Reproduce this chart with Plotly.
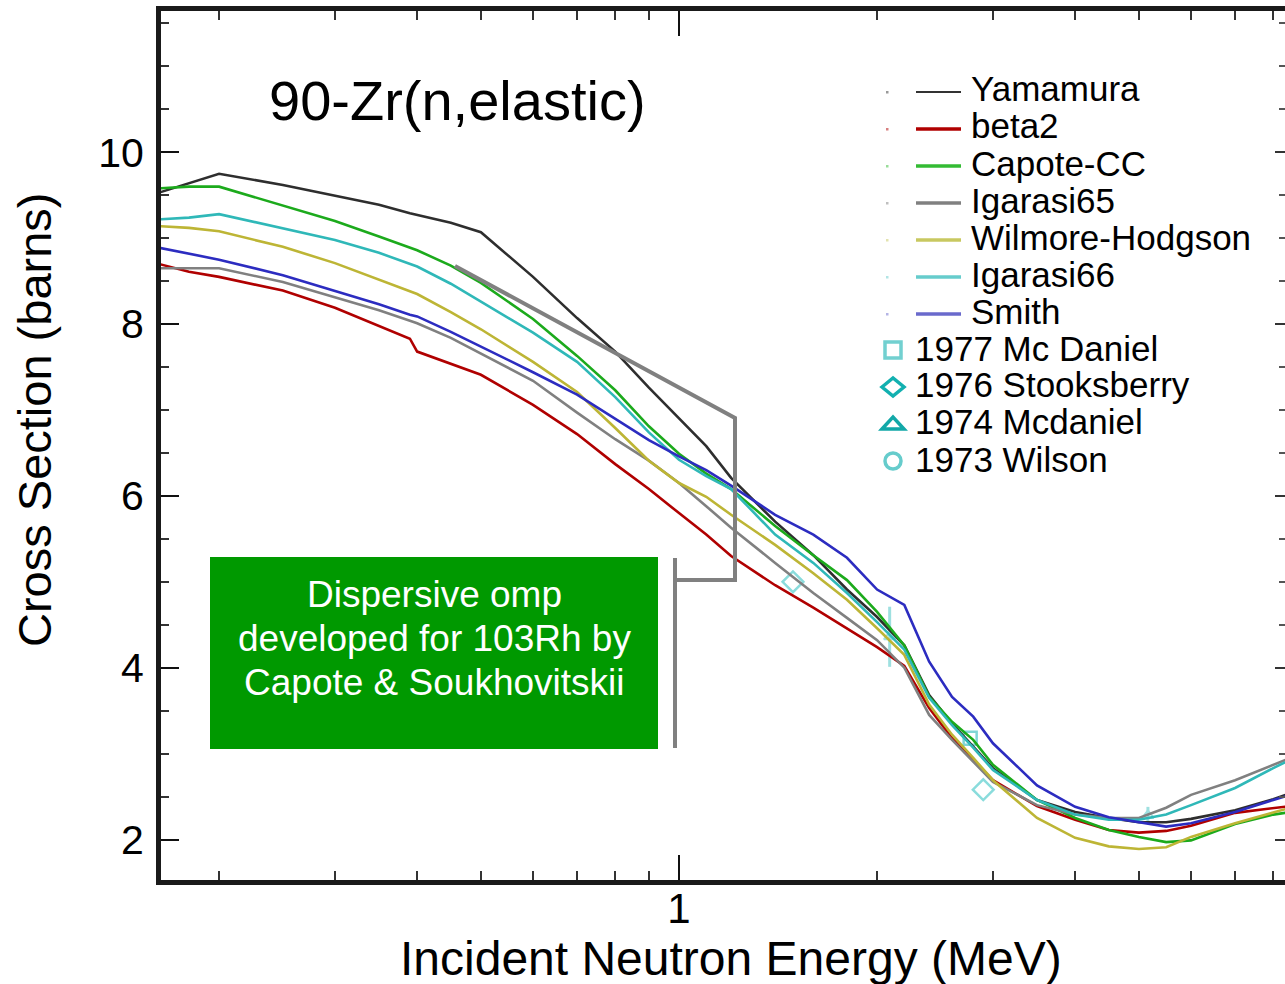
import plotly.graph_objects as go

# ---------------------------------------------------------------- data
# incident neutron energy grid (MeV) shared by the model curves
energy_mev = [0.162, 0.18, 0.2, 0.25, 0.3, 0.35, 0.39, 0.4, 0.45, 0.5,
              0.6, 0.7, 0.8, 0.9, 1.0, 1.1, 1.2, 1.4, 1.6, 1.8,
              2.0, 2.2, 2.4, 2.6, 2.8, 3.0, 3.5, 4.0, 4.5, 5.0,
              5.5, 6.0, 7.0, 8.0, 8.5]

# elastic cross sections (barns) for each optical-model potential
yamamura = [9.53, 9.64, 9.75, 9.62, 9.50, 9.39, 9.29, 9.27, 9.18, 9.07,
            8.55, 8.07, 7.68, 7.26, 6.90, 6.58, 6.21, 5.70, 5.31, 4.91,
            4.59, 4.26, 3.68, 3.35, 3.08, 2.83, 2.46, 2.32, 2.25, 2.20,
            2.20, 2.24, 2.34, 2.47, 2.54]
beta2 = [8.70, 8.61, 8.55, 8.39, 8.19, 7.98, 7.83, 7.68, 7.54, 7.41,
         7.06, 6.72, 6.37, 6.08, 5.80, 5.55, 5.30, 4.96, 4.70, 4.46,
         4.24, 4.02, 3.53, 3.18, 2.93, 2.69, 2.39, 2.23, 2.11, 2.08,
         2.10, 2.16, 2.31, 2.37, 2.39]
capote_cc = [9.58, 9.60, 9.60, 9.38, 9.20, 9.02, 8.89, 8.86, 8.68, 8.48,
             8.06, 7.63, 7.23, 6.81, 6.49, 6.26, 6.08, 5.65, 5.31, 5.02,
             4.65, 4.26, 3.66, 3.37, 3.16, 2.87, 2.46, 2.25, 2.11, 2.03,
             1.97, 1.99, 2.18, 2.29, 2.32]
igarasi65 = [8.65, 8.65, 8.65, 8.49, 8.31, 8.16, 8.04, 8.01, 7.84, 7.66,
             7.34, 6.97, 6.66, 6.41, 6.15, 5.88, 5.63, 5.22, 4.87, 4.58,
             4.32, 4.00, 3.45, 3.16, 2.90, 2.67, 2.40, 2.29, 2.25, 2.25,
             2.37, 2.52, 2.69, 2.87, 2.95]
wilmore_hodgson = [9.14, 9.12, 9.08, 8.90, 8.71, 8.52, 8.38, 8.35, 8.14, 7.94,
                   7.56, 7.21, 6.79, 6.41, 6.15, 5.99, 5.78, 5.43, 5.10, 4.79,
                   4.46, 4.15, 3.57, 3.22, 2.95, 2.69, 2.25, 2.02, 1.92, 1.89,
                   1.91, 2.03, 2.19, 2.32, 2.37]
igarasi66 = [9.22, 9.24, 9.28, 9.11, 8.98, 8.83, 8.70, 8.67, 8.47, 8.26,
             7.90, 7.56, 7.15, 6.74, 6.42, 6.23, 6.08, 5.55, 5.22, 4.87,
             4.53, 4.21, 3.65, 3.33, 3.07, 2.81, 2.46, 2.29, 2.23, 2.23,
             2.29, 2.40, 2.60, 2.83, 2.93]
smith = [8.89, 8.82, 8.75, 8.57, 8.39, 8.23, 8.11, 8.09, 7.91, 7.74,
         7.44, 7.18, 6.90, 6.65, 6.46, 6.30, 6.12, 5.78, 5.55, 5.28,
         4.91, 4.73, 4.07, 3.66, 3.43, 3.12, 2.63, 2.38, 2.26, 2.20,
         2.15, 2.19, 2.32, 2.46, 2.52]

model_names = ["Yamamura", "beta2", "Capote-CC", "Igarasi65",
               "Wilmore-Hodgson", "Igarasi66", "Smith"]
model_values = [yamamura, beta2, capote_cc, igarasi65,
                wilmore_hodgson, igarasi66, smith]
model_colors = ["#2e2e2e", "#b00000", "#1caa1c", "#808080",
                "#bdb535", "#2fb8b8", "#2c2cc0"]
legend_line_colors = ["#333333", "#b00000", "#33bb33", "#808080",
                      "#c8c860", "#66cccc", "#6a6acc"]

# measured points (MeV, barns, uncertainty)
mcdaniel1977_e, mcdaniel1977_xs = [2.77], [3.18]
stooksberry1976_e, stooksberry1976_xs = [1.49, 2.90], [5.00, 2.58]
mcdaniel1974_e, mcdaniel1974_xs, mcdaniel1974_err = [2.09, 5.16], [4.36, 2.28], [0.35, 0.10]
wilson1973_e, wilson1973_xs = [], []

exp_names = ["1977 Mc Daniel", "1976 Stooksberry", "1974 Mcdaniel", "1973 Wilson"]
exp_symbols = ["square-open", "diamond-open", "triangle-up-open", "circle-open"]
exp_colors = ["#72d0d0", "#12b0b0", "#12a8a8", "#66cccc"]

# tick values
x_major = [1]
x_minor = [0.2, 0.3, 0.4, 0.5, 0.6, 0.7, 0.8, 0.9, 2, 3, 4, 5, 6, 7, 8]
y_major = [2, 4, 6, 8, 10]

FONT = "Liberation Sans, Arial, Helvetica, sans-serif"

# ---------------------------------------------------------------- geometry
W, H = 1285, 984
PL, PR, PT, PB = 161, 1285, 11, 880


def fx(px):
    return (px - PL) / (PR - PL)


def fy(py):
    return (PB - py) / (PB - PT)


fig = go.Figure()

# experimental data underneath the model curves
fig.add_trace(go.Scatter(x=mcdaniel1977_e, y=mcdaniel1977_xs, mode="markers",
                         name=exp_names[0], showlegend=False,
                         marker=dict(symbol=exp_symbols[0], size=13, color="#80d6d6",
                                     line=dict(width=2.5, color="#80d6d6"))))
fig.add_trace(go.Scatter(x=stooksberry1976_e, y=stooksberry1976_xs, mode="markers",
                         name=exp_names[1], showlegend=False,
                         marker=dict(symbol=exp_symbols[1], size=16, color="#8adcdc",
                                     line=dict(width=2.5, color="#8adcdc"))))
fig.add_trace(go.Scatter(x=mcdaniel1974_e, y=mcdaniel1974_xs, mode="markers",
                         name=exp_names[2], showlegend=False,
                         error_y=dict(type="data", array=mcdaniel1974_err, color="#9ee0e0",
                                      thickness=3, width=0),
                         marker=dict(symbol=exp_symbols[2], size=10, color="#9ee0e0",
                                     line=dict(width=2, color="#9ee0e0"))))
fig.add_trace(go.Scatter(x=wilson1973_e, y=wilson1973_xs, mode="markers",
                         name=exp_names[3], showlegend=False,
                         marker=dict(symbol=exp_symbols[3], size=14, color=exp_colors[3],
                                     line=dict(width=3, color=exp_colors[3]))))

for name, vals, col in zip(model_names, model_values, model_colors):
    fig.add_trace(go.Scatter(x=energy_mev, y=vals, mode="lines", name=name,
                             showlegend=False,
                             line=dict(color=col, width=2.6)))

# invisible helper on the right-hand axis so its ticks are drawn
fig.add_trace(go.Scatter(x=[1], y=[5], yaxis="y2", mode="markers",
                         marker=dict(opacity=0), showlegend=False, hoverinfo="skip"))

shapes = []
annotations = []

# title
annotations.append(dict(x=fx(457), y=fy(101), xref="paper", yref="paper",
                        text="90-Zr(n,elastic)", showarrow=False,
                        font=dict(family=FONT, size=56, color="#000000"),
                        xanchor="center", yanchor="middle"))

# legend: model curves
row_y = [92, 129, 166, 203, 240, 277, 314]
for name, lc, yy in zip(model_names, legend_line_colors, row_y):
    shapes.append(dict(type="line", xref="paper", yref="paper",
                       x0=fx(916), x1=fx(961), y0=fy(yy), y1=fy(yy),
                       line=dict(color=lc, width=2.2 if name == "Yamamura" else 3.6)))
    shapes.append(dict(type="rect", xref="paper", yref="paper",
                       x0=fx(886), x1=fx(888.5), y0=fy(yy - 1), y1=fy(yy + 1.5),
                       fillcolor=lc, opacity=0.5, line=dict(width=0)))
    annotations.append(dict(x=fx(969), y=fy(yy - 3), xref="paper", yref="paper",
                            text=name, showarrow=False, xanchor="left", yanchor="middle",
                            font=dict(family=FONT, size=35, color="#000000")))

# legend: measurements
exp_rows = [350, 387, 424, 461]
mx = 893
s = 8
shapes.append(dict(type="rect", xref="paper", yref="paper",
                   x0=fx(mx - s), x1=fx(mx + s), y0=fy(350 - s), y1=fy(350 + s),
                   line=dict(color=exp_colors[0], width=3.5)))
d = 11
shapes.append(dict(type="path", xref="paper", yref="paper",
                   path=f"M {fx(mx - d)},{fy(387)} L {fx(mx)},{fy(387 - 9)} "
                        f"L {fx(mx + d)},{fy(387)} L {fx(mx)},{fy(387 + 9)} Z",
                   line=dict(color=exp_colors[1], width=3.5)))
shapes.append(dict(type="path", xref="paper", yref="paper",
                   path=f"M {fx(mx - 11)},{fy(429)} L {fx(mx)},{fy(417)} "
                        f"L {fx(mx + 11)},{fy(429)} Z",
                   line=dict(color=exp_colors[2], width=3.5)))
shapes.append(dict(type="circle", xref="paper", yref="paper",
                   x0=fx(mx - 8), x1=fx(mx + 8), y0=fy(461 - 8), y1=fy(461 + 8),
                   line=dict(color=exp_colors[3], width=3.5)))
for name, yy in zip(exp_names, exp_rows):
    annotations.append(dict(x=fx(913), y=fy(yy - 2), xref="paper", yref="paper",
                            text=name, showarrow=False, xanchor="left", yanchor="middle",
                            font=dict(family=FONT, size=35, color="#000000")))

# highlight box and bracket
shapes.append(dict(type="rect", xref="paper", yref="paper", layer="above",
                   x0=fx(210), x1=fx(658), y0=fy(749), y1=fy(557),
                   fillcolor="#009900", line=dict(width=0)))
shapes.append(dict(type="path", xref="paper", yref="paper", layer="above",
                   path=f"M {fx(455)},{fy(266)} L {fx(735)},{fy(418)} "
                        f"L {fx(735)},{fy(580)} L {fx(675)},{fy(580)}",
                   line=dict(color="#808080", width=4)))
shapes.append(dict(type="line", xref="paper", yref="paper", layer="above",
                   x0=fx(675), x1=fx(675), y0=fy(558), y1=fy(748),
                   line=dict(color="#808080", width=4)))
for txt, yy in zip(["Dispersive omp", "developed for 103Rh by",
                    "Capote &amp; Soukhovitskii"], [594, 638, 682]):
    annotations.append(dict(x=fx(434), y=fy(yy), xref="paper", yref="paper",
                            text=txt, showarrow=False, xanchor="center", yanchor="middle",
                            font=dict(family=FONT, size=37, color="#ffffff")))

# axis titles
annotations.append(dict(x=fx(731), y=fy(959), xref="paper", yref="paper",
                        text="Incident Neutron Energy (MeV)", showarrow=False,
                        xanchor="center", yanchor="middle",
                        font=dict(family=FONT, size=48, color="#000000")))
annotations.append(dict(x=fx(35), y=fy(420), xref="paper", yref="paper",
                        text="Cross Section (barns)", showarrow=False, textangle=-90,
                        xanchor="center", yanchor="middle",
                        font=dict(family=FONT, size=47, color="#000000")))

yrange = [1.5285, 11.645]

fig.update_layout(
    width=W, height=H,
    margin=dict(l=PL, r=W - PR, t=PT, b=H - PB, pad=0),
    paper_bgcolor="#ffffff", plot_bgcolor="#ffffff",
    showlegend=False,
    shapes=shapes, annotations=annotations,
    xaxis=dict(type="log", range=[-0.78723, 0.92097], autorange=False,
               tickmode="array", tickvals=x_major, ticktext=["1"],
               ticks="inside", ticklen=25, tickwidth=2, tickcolor="#111111",
               minor=dict(tickmode="array", tickvals=x_minor, ticks="inside",
                          ticklen=9, tickwidth=2, tickcolor="#333333"),
               showline=True, linewidth=5, linecolor="#1a1a1a", mirror="ticks",
               showgrid=False, zeroline=False, ticklabelstandoff=-12,
               tickfont=dict(family=FONT, size=42, color="#000000")),
    yaxis=dict(range=yrange, autorange=False,
               tickmode="array", tickvals=y_major,
               ticks="inside", ticklen=18, tickwidth=2, tickcolor="#111111",
               minor=dict(dtick=0.5, tick0=0, ticks="inside",
                          ticklen=8, tickwidth=2, tickcolor="#333333"),
               showline=True, linewidth=5, linecolor="#1a1a1a", mirror=False,
               showgrid=False, zeroline=False, ticklabelstandoff=4,
               tickfont=dict(family=FONT, size=41, color="#000000")),
    yaxis2=dict(range=yrange, autorange=False, overlaying="y", side="right",
                tickmode="array", tickvals=y_major, showticklabels=False,
                ticks="inside", ticklen=10, tickwidth=2, tickcolor="#333333",
                minor=dict(dtick=0.5, tick0=0, ticks="inside",
                           ticklen=6, tickwidth=2, tickcolor="#555555"),
                showline=False, showgrid=False, zeroline=False),
)

fig.write_html("out.html", config={"displayModeBar": False},
               post_script="document.body.style.margin='0';")
